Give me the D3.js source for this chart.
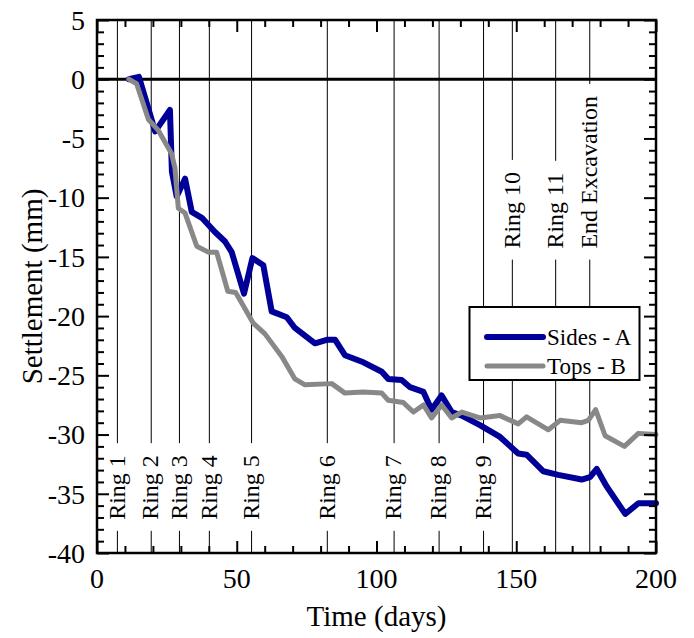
<!DOCTYPE html>
<html>
<head>
<meta charset="utf-8">
<script src="https://cdn.jsdelivr.net/npm/d3@7"></script>
<style>
  html, body { margin: 0; padding: 0; background: #fff; }
  svg { display: block; }
  text { font-family: "Liberation Serif", "Times New Roman", serif; fill: #000; }
</style>
</head>
<body>
<svg id="chart" width="694" height="638"></svg>
<script>
// ---------------- data ----------------
const sidesDays = [11.4, 15, 20.8, 26.1, 26.8, 28.5, 31.5, 33.9, 37.5, 42.2, 45.8, 48.2, 52.6, 55.6, 59.5, 62.5, 67.9, 70.8, 78, 82.2, 85.2, 88.7, 95.3, 101.9, 104.2, 109, 112, 116.8, 119.7, 123.3, 126.9, 130.5, 137, 144.2, 150.7, 153.7, 159.7, 165, 173.4, 176.4, 178.8, 182.4, 189, 193.7, 200];
const sidesVals = [0, 0.2, -4.4, -2.6, -7.8, -9.9, -8.4, -11.2, -11.7, -12.9, -13.7, -14.6, -18.1, -15.1, -15.7, -19.6, -20.1, -21.0, -22.3, -22.0, -22.0, -23.3, -23.9, -24.7, -25.3, -25.4, -26.0, -26.4, -27.9, -26.7, -28.1, -28.4, -29.2, -30.2, -31.6, -31.7, -33.1, -33.4, -33.8, -33.6, -32.9, -34.4, -36.7, -35.8, -35.8];

const topsDays = [11.4, 14.2, 18.4, 21.9, 26.7, 27.9, 29.1, 31.5, 35.7, 39.8, 42.8, 46.8, 49.6, 52.3, 55.9, 60.1, 66.1, 70.8, 74.4, 84, 88.7, 95.3, 101.9, 104.2, 109.6, 113.2, 116.8, 119.7, 123.3, 126.9, 130.5, 137, 144.2, 150.7, 153.7, 161.5, 165.7, 173.4, 175.8, 178.4, 181.8, 188.7, 193.7, 200];
const topsVals = [0, -0.4, -3.4, -4.3, -6.3, -7.5, -10.9, -11.3, -14.1, -14.6, -14.6, -17.9, -18.0, -19.1, -20.6, -21.5, -23.4, -25.3, -25.8, -25.7, -26.5, -26.4, -26.5, -27.1, -27.3, -28.1, -27.5, -28.6, -27.5, -28.6, -28.1, -28.6, -28.4, -29.1, -28.5, -29.6, -28.8, -29.0, -28.8, -27.9, -30.1, -31.0, -29.9, -30.0];

const ringNames = ["Ring 1", "Ring 2", "Ring 3", "Ring 4", "Ring 5", "Ring 6", "Ring 7", "Ring 8", "Ring 9", "Ring 10", "Ring 11", "End Excavation"];
const ringDays = [7.3, 19.4, 29.5, 40.2, 55.3, 82.4, 106.3, 122.4, 138.3, 148.6, 164.1, 176.3];
const ringLabelTop = [false, false, false, false, false, false, false, false, false, true, true, true];

const seriesNames = ["Sides - A", "Tops - B"];
const seriesColors = ["#000099", "#888888"];

const xTickValues = [0, 50, 100, 150, 200];
const yTickValues = [5, 0, -5, -10, -15, -20, -25, -30, -35, -40];

// ---------------- layout ----------------
const W = 694, H = 638;
const m = { left: 97, right: 38, top: 20, bottom: 85 };
const svg = d3.select("#chart");

const x = d3.scaleLinear().domain([0, 200]).range([m.left, W - m.right]);
const y = d3.scaleLinear().domain([-40, 5]).range([H - m.bottom, m.top]);

const plot = svg.append("g");

// ---------------- ring lines and labels ----------------
const ringG = plot.append("g");
ringNames.forEach((name, i) => {
  const xp = x(ringDays[i]);
  const anchorY = ringLabelTop[i] ? y(-14.3) : y(-37.2);
  const t = ringG.append("text")
    .attr("transform", `translate(${xp},${anchorY}) rotate(-90)`)
    .attr("dy", "0.3em")
    .attr("text-anchor", "start")
    .style("font-size", "24px")
    .text(name);
  const L = t.node().getComputedTextLength();
  const segs = [[y(5), anchorY - L - 12], [anchorY + 11, y(-40)]];
  segs.forEach(s => {
    ringG.append("line")
      .attr("x1", xp).attr("x2", xp)
      .attr("y1", s[0]).attr("y2", s[1])
      .attr("stroke", "#000").attr("stroke-width", 1);
  });
});

// zero line
plot.append("line")
  .attr("x1", x(0)).attr("x2", x(200))
  .attr("y1", y(0)).attr("y2", y(0))
  .attr("stroke", "#000").attr("stroke-width", 3);

// ---------------- curves ----------------
const lineGen = d3.line().x(d => x(d[0])).y(d => y(d[1]));
const sides = sidesDays.map((d, i) => [d, sidesVals[i]]);
const tops = topsDays.map((d, i) => [d, topsVals[i]]);

plot.append("path").datum(sides)
  .attr("d", lineGen).attr("fill", "none")
  .attr("stroke", seriesColors[0]).attr("stroke-width", 6)
  .attr("stroke-linejoin", "round").attr("stroke-linecap", "round");
plot.append("path").datum(tops)
  .attr("d", lineGen).attr("fill", "none")
  .attr("stroke", seriesColors[1]).attr("stroke-width", 5)
  .attr("stroke-linejoin", "round").attr("stroke-linecap", "round");

// ---------------- legend ----------------
const lg = svg.append("g");
lg.append("rect")
  .attr("x", 469.5).attr("y", 307).attr("width", 170).attr("height", 73)
  .attr("fill", "#fff").attr("stroke", "#000").attr("stroke-width", 2);
seriesNames.forEach((name, i) => {
  const ly = 337 + i * 29;
  lg.append("line")
    .attr("x1", 487).attr("x2", 543).attr("y1", ly).attr("y2", ly)
    .attr("stroke", seriesColors[i]).attr("stroke-width", i === 0 ? 6 : 5)
    .attr("stroke-linecap", "round");
  lg.append("text")
    .attr("x", 547).attr("y", ly).attr("dy", "0.33em")
    .style("font-size", "23px")
    .text(name);
});

// ---------------- axes ----------------
function tickAxis(axisFn, scale, values, size, transform) {
  const g = svg.append("g").attr("transform", transform)
    .call(axisFn(scale).tickValues(values).tickSize(size).tickFormat(""));
  g.select(".domain").remove();
  g.selectAll(".tick line").attr("stroke", "#000").attr("stroke-width", 2);
  return g;
}
const xMinor = d3.range(0, 201, 10).filter(v => v % 50 !== 0);
const yMinor = d3.range(-40, 6, 1).filter(v => v % 5 !== 0);
const yTopPx = y(5), yBotPx = y(-40), xLeftPx = x(0), xRightPx = x(200);

// bottom (inward = up)
tickAxis(d3.axisTop, x, xTickValues, 12, `translate(0,${yBotPx})`);
tickAxis(d3.axisTop, x, xMinor, 7, `translate(0,${yBotPx})`);
// top (inward = down)
tickAxis(d3.axisBottom, x, xTickValues, 12, `translate(0,${yTopPx})`);
tickAxis(d3.axisBottom, x, xMinor, 7, `translate(0,${yTopPx})`);
// left (inward = right)
tickAxis(d3.axisRight, y, yTickValues, 12, `translate(${xLeftPx},0)`);
tickAxis(d3.axisRight, y, yMinor, 7, `translate(${xLeftPx},0)`);
// right (inward = left)
tickAxis(d3.axisLeft, y, yTickValues, 12, `translate(${xRightPx},0)`);
tickAxis(d3.axisLeft, y, yMinor, 7, `translate(${xRightPx},0)`);

// frame
svg.append("rect")
  .attr("x", xLeftPx).attr("y", yTopPx)
  .attr("width", xRightPx - xLeftPx).attr("height", yBotPx - yTopPx)
  .attr("fill", "none").attr("stroke", "#000").attr("stroke-width", 2.5);

// tick labels
svg.append("g").selectAll("text").data(xTickValues).join("text")
  .attr("x", d => x(d)).attr("y", 588)
  .attr("text-anchor", "middle")
  .style("font-size", "28px")
  .text(d => d);
svg.append("g").selectAll("text").data(yTickValues).join("text")
  .attr("x", xLeftPx - 12).attr("y", d => y(d)).attr("dy", "0.35em")
  .attr("text-anchor", "end")
  .style("font-size", "28px")
  .text(d => d);

// axis titles
svg.append("text")
  .attr("x", (xLeftPx + xRightPx) / 2).attr("y", 626)
  .attr("text-anchor", "middle")
  .style("font-size", "29px")
  .text("Time (days)");
svg.append("text")
  .attr("transform", `translate(42,${(yTopPx + yBotPx) / 2}) rotate(-90)`)
  .attr("text-anchor", "middle")
  .style("font-size", "29px")
  .text("Settlement (mm)");
</script>
</body>
</html>
